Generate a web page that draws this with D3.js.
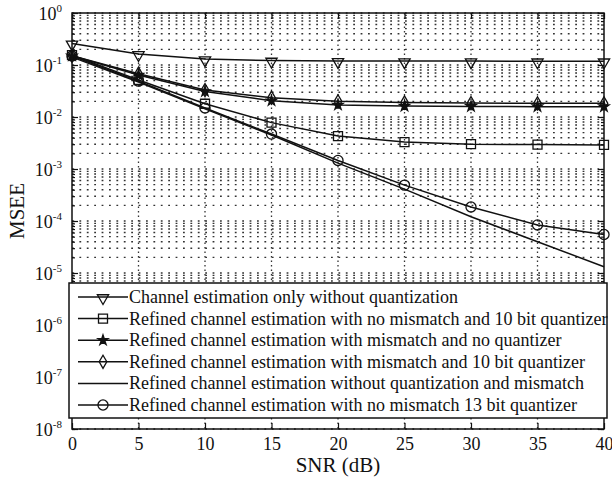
<!DOCTYPE html>
<html>
<head>
<meta charset="utf-8">
<script src="https://cdn.jsdelivr.net/npm/d3@7"></script>
<style>
  body { margin: 0; background: #fff; }
  svg { display: block; }
  text { font-family: "Liberation Serif", "Times New Roman", serif; fill: #111; }
</style>
</head>
<body>
<svg width="612" height="482"></svg>
<script>
// SNR points (dB)
var snr = [0, 5, 10, 15, 20, 25, 30, 35, 40];

// MSEE values
var chanOnly      = [0.26, 0.163, 0.13, 0.122, 0.12, 0.119, 0.119, 0.118, 0.118];
var noMis10bit    = [0.155, 0.0515, 0.018, 0.0078, 0.0043, 0.0033, 0.0030, 0.00295, 0.0029];
var misNoQuant    = [0.15, 0.064, 0.031, 0.0205, 0.017, 0.0162, 0.016, 0.0158, 0.0158];
var mis10bit      = [0.15, 0.068, 0.033, 0.0235, 0.02, 0.019, 0.0185, 0.0183, 0.0183];
var noQuantNoMis  = [0.142, 0.047, 0.0143, 0.0045, 0.0013, 0.00041, 0.000121, 0.00004, 0.0000132];
var noMis13bit    = [0.149, 0.049, 0.0149, 0.0047, 0.00146, 0.00049, 0.000186, 0.000084, 0.000055];

var legendLabels = [
  "Channel estimation only without quantization",
  "Refined channel estimation with no mismatch and 10 bit quantizer",
  "Refined channel estimation with mismatch and no quantizer",
  "Refined channel estimation with mismatch and 10 bit quantizer",
  "Refined channel estimation without quantization and mismatch",
  "Refined channel estimation with no mismatch 13 bit quantizer"
];
var markerTypes = ["tri", "sq", "star", "dia", "none", "circ"];
var allSeries = [chanOnly, noMis10bit, misNoQuant, mis10bit, noQuantNoMis, noMis13bit];

var xTicks = [0, 5, 10, 15, 20, 25, 30, 35, 40];
var yExponents = [0, -1, -2, -3, -4, -5, -6, -7, -8];

(function() {
  var svg = d3.select("svg");
  var pl = 72, pr = 604, pt = 13, pb = 429;

  var x = d3.scaleLinear().domain([0, 40]).range([pl, pr]);
  var y = d3.scaleLog().domain([1e-8, 1]).range([pb, pt]);

  var decades = yExponents.map(function(e) { return Math.pow(10, e); });
  var minors = [];
  yExponents.forEach(function(e) {
    if (e === 0) return;
    for (var m = 1; m <= 9; m++) minors.push(m * Math.pow(10, e));
  });
  minors.push(1);

  // grid (dotted, matlab-ish)
  var grid = svg.append("g").attr("class", "grid");
  grid.selectAll("line.h").data(minors).enter().append("line")
    .attr("class", "h")
    .attr("x1", pl).attr("x2", pr)
    .attr("y1", function(d) { return y(d); })
    .attr("y2", function(d) { return y(d); })
    .attr("stroke", "#333").attr("stroke-width", 1.4)
    .attr("stroke-dasharray", "1.8,5.6");
  grid.selectAll("line.v").data(xTicks.slice(1, -1)).enter().append("line")
    .attr("class", "v")
    .attr("y1", pt).attr("y2", pb)
    .attr("x1", function(d) { return x(d); })
    .attr("x2", function(d) { return x(d); })
    .attr("stroke", "#333").attr("stroke-width", 1.3)
    .attr("stroke-dasharray", "1.5,3");

  // axes with inward ticks
  function styleAxis(g) {
    g.select(".domain").remove();
    g.selectAll(".tick line").attr("stroke", "#111").attr("stroke-width", 1.2);
  }
  svg.append("g").attr("transform", "translate(0," + pb + ")")
    .call(d3.axisBottom(x).tickValues(xTicks).tickSizeInner(-6).tickSizeOuter(0).tickPadding(8).tickFormat(d3.format("d")))
    .call(styleAxis)
    .selectAll("text").attr("font-size", 18).attr("font-family", "Liberation Serif").attr("fill", "#111");
  svg.append("g").attr("transform", "translate(0," + pt + ")")
    .call(d3.axisTop(x).tickValues(xTicks).tickSizeInner(-6).tickSizeOuter(0).tickFormat(""))
    .call(styleAxis);

  svg.append("g").attr("transform", "translate(" + pl + ",0)")
    .call(d3.axisLeft(y).tickValues(decades).tickSizeInner(-6).tickSizeOuter(0).tickFormat(""))
    .call(styleAxis);
  svg.append("g").attr("transform", "translate(" + pr + ",0)")
    .call(d3.axisRight(y).tickValues(decades).tickSizeInner(-6).tickSizeOuter(0).tickFormat(""))
    .call(styleAxis);
  svg.append("g").attr("transform", "translate(" + pl + ",0)")
    .call(d3.axisLeft(y).tickValues(minors).tickSizeInner(-3).tickSizeOuter(0).tickFormat(""))
    .call(styleAxis);
  svg.append("g").attr("transform", "translate(" + pr + ",0)")
    .call(d3.axisRight(y).tickValues(minors).tickSizeInner(-3).tickSizeOuter(0).tickFormat(""))
    .call(styleAxis);

  // y tick labels 10^k
  yExponents.forEach(function(e) {
    var t = svg.append("text")
      .attr("x", 62).attr("y", y(Math.pow(10, e)) + 6.5)
      .attr("text-anchor", "end").attr("font-size", 18);
    t.append("tspan").text("10");
    t.append("tspan").attr("font-size", 11).attr("dy", -8).text(e === 0 ? "0" : "-" + (-e));
  });

  // frame
  svg.append("rect")
    .attr("x", pl).attr("y", pt)
    .attr("width", pr - pl).attr("height", pb - pt)
    .attr("fill", "none").attr("stroke", "#111").attr("stroke-width", 1.5);

  // markers
  function marker(g, type, cx, cy) {
    if (type === "none") return;
    var sym, size, fill = "none", extra = "";
    if (type === "tri") { sym = d3.symbolTriangle; size = 55; extra = " rotate(180) translate(0,-1)"; }
    if (type === "sq") { sym = d3.symbolSquare; size = 81; }
    if (type === "star") { sym = d3.symbolStar; size = 32; fill = "#111"; }
    if (type === "dia") { sym = d3.symbolDiamond; size = 50; }
    if (type === "circ") { sym = d3.symbolCircle; size = 80; }
    g.append("path")
      .attr("d", d3.symbol().type(sym).size(size)())
      .attr("transform", "translate(" + cx + "," + cy + ")" + extra)
      .attr("fill", fill).attr("stroke", "#111").attr("stroke-width", 1.3);
  }

  var line = d3.line()
    .x(function(d, i) { return x(snr[i]); })
    .y(function(d) { return y(d); });

  var plot = svg.append("g");
  allSeries.forEach(function(vals) {
    plot.append("path").datum(vals)
      .attr("d", line)
      .attr("fill", "none").attr("stroke", "#111").attr("stroke-width", 1.5);
  });
  allSeries.forEach(function(vals, k) {
    vals.forEach(function(v, i) { marker(plot, markerTypes[k], x(snr[i]), y(v)); });
  });

  // legend
  var lg = svg.append("g");
  lg.append("rect")
    .attr("x", 69).attr("y", 283).attr("width", 538).attr("height", 135)
    .attr("fill", "#fff").attr("stroke", "#111").attr("stroke-width", 1.5);
  legendLabels.forEach(function(lbl, i) {
    var ry = 297 + i * 21.6;
    lg.append("line").attr("x1", 78).attr("x2", 128).attr("y1", ry).attr("y2", ry)
      .attr("stroke", "#111").attr("stroke-width", 1.5);
    marker(lg, markerTypes[i], 103, ry);
    lg.append("text").attr("x", 129).attr("y", ry + 6).attr("font-size", 18).text(lbl);
  });

  // axis titles
  svg.append("text").attr("x", 338).attr("y", 472).attr("text-anchor", "middle")
    .attr("font-size", 21).text("SNR (dB)");
  svg.append("text").attr("transform", "translate(24,211) rotate(-90)")
    .attr("text-anchor", "middle").attr("font-size", 21).text("MSEE");
})();
</script>
</body>
</html>
